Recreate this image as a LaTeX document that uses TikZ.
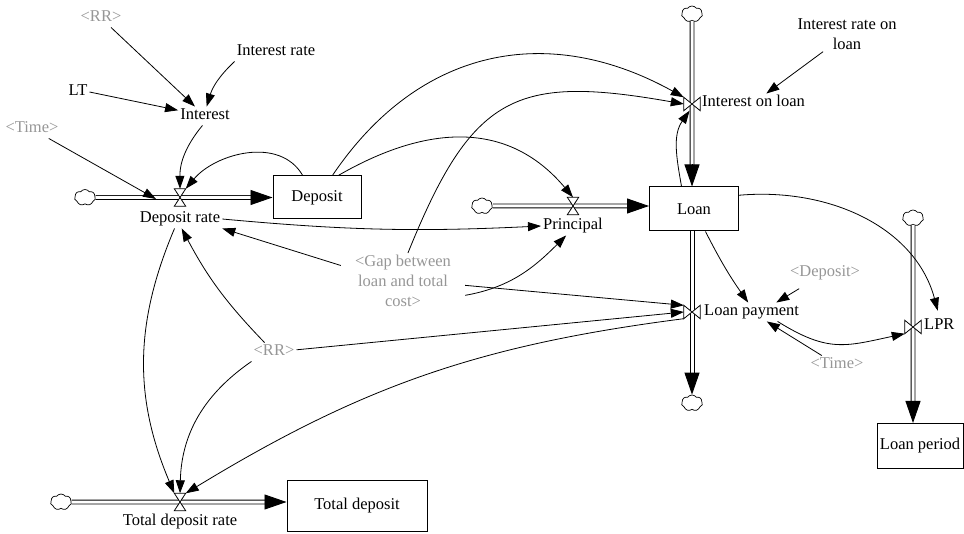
\documentclass[tikz,border=0pt]{standalone}
\usepackage{fontspec}
\setmainfont{Liberation Serif}
\usetikzlibrary{arrows.meta,shapes.symbols,calc}
\definecolor{shadowtxt}{RGB}{150,150,150}
\begin{document}
\begin{tikzpicture}[x=1pt,y=1pt,
  font=\fontsize{16.5}{20}\selectfont,
  var/.style={inner sep=2pt, text height=11pt, text depth=3.5pt},
  shadow/.style={var, text=shadowtxt},
  multi/.style={inner sep=2pt, align=center},
  stock/.style={draw, line width=1pt, inner sep=0pt},
  conn/.style={line width=0.8pt, -{Triangle[length=13pt,width=9pt]}},
  pipe/.style={draw=white, line width=3pt,
    preaction={draw=black, line width=4.8pt}},
  rail/.style={draw, line width=0.9pt},
  pipetip/.style={line width=0.9pt, -{Triangle[length=22pt,width=15pt]}},
  valveh/.style={inner sep=0pt, minimum width=11pt, minimum height=17pt},
  valvev/.style={inner sep=0pt, minimum width=16pt, minimum height=13pt},
  valveline/.style={draw, fill=white, line width=0.8pt},
  cloudy/.style={cloud, cloud puffs=7, cloud puff arc=110, aspect=1.4, draw,
    line width=0.7pt, inner sep=0pt, minimum width=21pt, minimum height=16pt},
]
\useasboundingbox (0,0) rectangle (964,-534);

% ---- stocks ----
\node[stock, minimum width=88pt, minimum height=43pt] (deposit) at (317,-197.5) {Deposit};
\node[stock, minimum width=89pt, minimum height=44pt] (loan) at (694,-209) {Loan};
\node[stock, minimum width=86pt, minimum height=45pt] (loanperiod) at (920,-446) {Loan period};
\node[stock, minimum width=140pt, minimum height=51pt] (totaldep) at (357,-505.5) {Total deposit};

% ---- sources and sinks ----
\node[cloudy] (cDR) at (85,-197.5) {};
\node[cloudy] (cPR) at (482,-206) {};
\node[cloudy] (cIOL) at (692,-14) {};
\node[cloudy] (cLP) at (692,-403) {};
\node[cloudy] (cLPR) at (913,-218) {};
\node[cloudy] (cTDR) at (61,-502) {};

% ---- valves ----
\node[valveh] (vDR) at (180,-197.5) {};
\node[valveh] (vPR) at (573,-206) {};
\node[valvev] (vIOL) at (692,-104) {};
\node[valvev] (vLP) at (692,-312) {};
\node[valvev] (vLPR) at (913,-327) {};
\node[valveh] (vTDR) at (180,-502) {};

% ---- flow pipes (outer black stroke, white core) ----
\path[pipe] (cDR.east) -- ($(deposit.west)+(-14,0)$);
\draw[pipetip] ($(deposit.west)+(-22,0)$) -- (deposit.west);
\path[pipe] (cPR.east) -- ($(cPR -| loan.west)+(-14,0)$);
\draw[pipetip] ($(cPR -| loan.west)+(-22,0)$) -- (cPR -| loan.west);
\path[pipe] (cIOL.south) -- ($(cIOL |- loan.north)+(0,14)$);
\draw[pipetip] ($(cIOL |- loan.north)+(0,22)$) -- (cIOL |- loan.north);
% outflow of Loan: two rails
\coordinate (lpTop) at (vLP |- loan.south);
\coordinate (lpEnd) at ($(cLP.north)+(0,14)$);
\path[rail] ($(lpTop)+(-1.95,0)$) -- ($(lpEnd)+(-1.95,0)$);
\path[rail] ($(lpTop)+(1.95,0)$) -- ($(lpEnd)+(1.95,0)$);
\draw[pipetip] ($(cLP.north)+(0,22)$) -- (cLP.north);
\path[pipe] (cLPR.south) -- ($(cLPR |- loanperiod.north)+(0,14)$);
\draw[pipetip] ($(cLPR |- loanperiod.north)+(0,22)$) -- (cLPR |- loanperiod.north);
\path[pipe] (cTDR.east) -- ($(cTDR -| totaldep.west)+(-14,0)$);
\draw[pipetip] ($(cTDR -| totaldep.west)+(-22,0)$) -- (cTDR -| totaldep.west);

% valve symbols drawn over the pipes
\foreach \v in {vDR,vPR,vTDR}
  \path[valveline] (\v.north west) -- (\v.north east) -- (\v.south west) -- (\v.south east) -- cycle;
\foreach \v in {vIOL,vLP,vLPR}
  \path[valveline] (\v.north west) -- (\v.south west) -- (\v.north east) -- (\v.south east) -- cycle;

% ---- flow labels ----
\node[var] (drLabel) at (180,-219) {Deposit rate};
\node[var] (prLabel) at (573,-226) {Principal};
\node[var, anchor=west] (iolLabel) at (700,-103) {Interest on loan};
\node[var, anchor=west] (lpLabel) at (702,-312) {Loan payment};
\node[var, anchor=west] (lprLabel) at (922,-326) {LPR};
\node[var] (tdrLabel) at (180,-522) {Total deposit rate};

% ---- auxiliaries ----
\node[shadow] (rrTop) at (101,-18) {<RR>};
\node[var] (irate) at (276,-52) {Interest rate};
\node[var] (lt) at (78,-92) {LT};
\node[var] (interest) at (205,-116) {Interest};
\node[shadow] (timeL) at (32,-129) {<Time>};
\node[multi] (irloan) at (847,-34) {Interest rate on\\loan};
\node[multi, text=shadowtxt, inner xsep=14pt] (gap) at (403,-281) {<Gap between\\loan and total\\cost>};
\node[shadow] (depShadow) at (825,-273) {<Deposit>};
\node[shadow] (timeR) at (837,-365) {<Time>};
\node[shadow] (rrMid) at (274,-352) {<RR>};
\coordinate (drPipeIn) at (156,-199);

% ---- information links ----
\draw[conn] (rrTop) -- (interest);
\draw[conn] (irate.south west) to[bend right=15] (interest.80);
\draw[conn] (lt.east) -- (interest.168);
\draw[conn] (interest.255) to[bend right=20] (vDR.north);
\draw[conn] (deposit.123) to[out=120,in=50] (vDR.north east);
\draw[conn] (timeL) -- (drPipeIn);
\draw[conn] (deposit.55) to[out=56,in=151,looseness=1.1] (vIOL.north west);
\draw[conn] (deposit.46) to[out=30,in=130,looseness=1.1] (vPR.north);
\draw[conn] (gap.80) to[out=68,in=170,looseness=1.4] (vIOL.west);
\draw[conn] (loan.119) to[out=100,in=235] (vIOL.250);
\draw[conn] (irloan) -- (iolLabel);
\draw[conn] (drLabel.east) to[bend right=4] (prLabel.west);
\draw[conn] (gap.166) -- (drLabel.south east);
\draw[conn] (gap.-13) to[out=10,in=225] (prLabel.234);
\draw[conn] (gap.-4) -- (vLP.north west);
\draw[conn] (rrMid) -- (vLP.west);
\draw[conn] (vLP.south west) to[bend right=12] (vTDR.north east);
\draw[conn] (rrMid.135) to[bend left=8] (drLabel.-80);
\draw[conn] (rrMid.south west) to[bend right=27] (vTDR.north);
\draw[conn] (drLabel.240) to[bend right=23] (vTDR.north west);
\draw[conn] (loan.-63) to[bend right=4] (lpLabel.110);
\draw[conn, shorten <=12pt] (depShadow) -- (lpLabel.21);
\draw[conn] (timeR) -- (lpLabel);
\draw[conn] (lpLabel.-20) to[out=-32,in=192,looseness=1.2] (vLPR.south west);
\draw[conn, shorten >=6pt] (loan.17) to[out=5,in=105] (lprLabel.north);
\end{tikzpicture}
\end{document}
